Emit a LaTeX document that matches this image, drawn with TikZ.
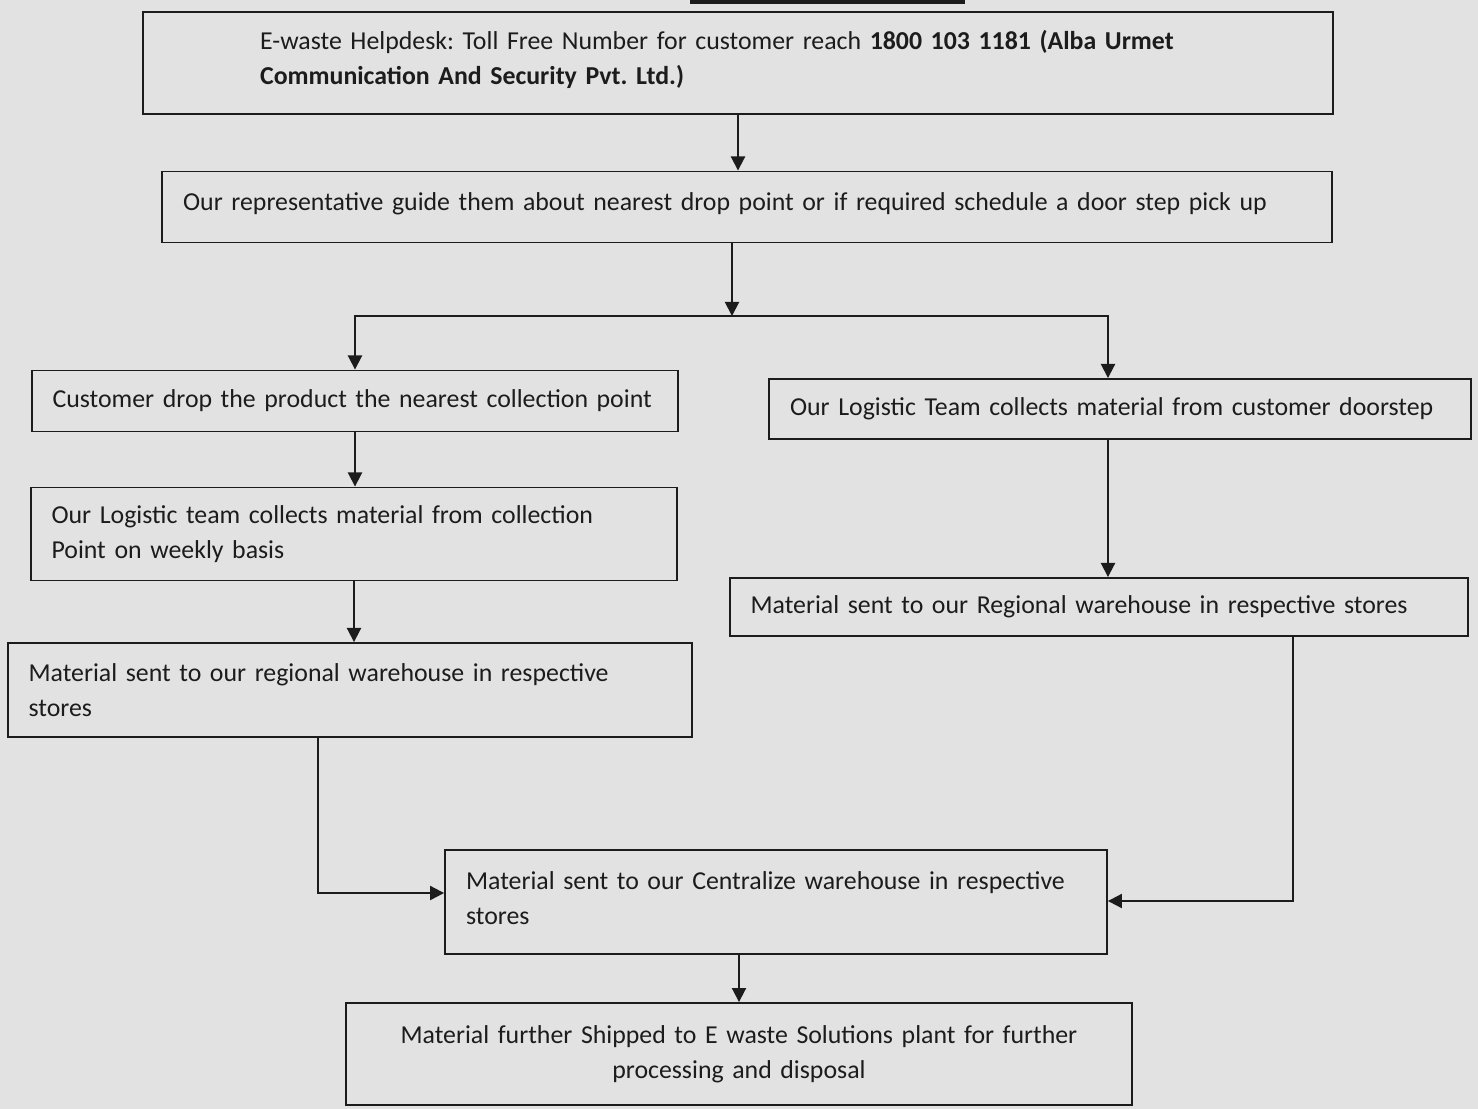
\documentclass[tikz,border=0pt]{standalone}
\usepackage{fontspec}
\setmainfont{Carlito}
\usetikzlibrary{arrows.meta}
\definecolor{scan}{RGB}{226,226,226}
\definecolor{ink}{RGB}{28,28,28}
\frenchspacing
\tikzset{
  stepbox/.style={draw=ink, line width=1.1pt, rectangle, align=left,
    inner ysep=0pt, inner xsep=0.42cm, text=ink,
    font=\fontsize{14.7}{20}\selectfont},
  flow/.style={draw=ink, line width=1.1pt, -{Triangle[length=8pt,width=8pt]}},
}
\begin{document}
\begin{tikzpicture}[x=0.02cm, y=-0.02cm]
  \fill[scan] (0,0) rectangle (1478,1109);
  \useasboundingbox (0,0) rectangle (1478,1109);
  \draw[ink, line width=3pt] (690,1) -- (965,1);

  \node[stepbox, inner xsep=2.34cm, text width=19.12cm, minimum height=2.04cm] (help) at (738,63)
    {E-waste Helpdesk: Toll Free Number for customer reach \textbf{1800 103 1181 (Alba Urmet}\\
     \textbf{Communication And Security Pvt. Ltd.)}\vspace{4pt}};
  \node[stepbox, text width=22.56cm, minimum height=1.42cm] (guide) at (747,207)
    {Our representative guide them about nearest drop point or if required schedule a door step pick up\vspace{4pt}};
  \node[stepbox, text width=12.1cm, minimum height=1.22cm] (drop) at (355,401)
    {Customer drop the product the nearest collection point};
  \node[stepbox, text width=13.2cm, minimum height=1.2cm] (doorstep) at (1120,409)
    {Our Logistic Team collects material from customer doorstep};
  \node[stepbox, text width=12.1cm, minimum height=1.86cm] (weekly) at (354,534)
    {Our Logistic team collects material from collection\\ Point on weekly basis};
  \node[stepbox, text width=13.94cm, minimum height=1.16cm] (regionR) at (1099,607)
    {Material sent to our Regional warehouse in respective stores};
  \node[stepbox, text width=12.86cm, minimum height=1.88cm] (regionL) at (350,690)
    {Material sent to our regional warehouse in respective\\ stores};
  \node[stepbox, text width=12.4cm, minimum height=2.08cm] (central) at (776,902)
    {Material sent to our Centralize warehouse in respective\\ stores\vspace{4pt}};
  \node[stepbox, align=center, text width=14.9cm, minimum height=2.04cm] (plant) at (739,1054)
    {Material further Shipped to E waste Solutions plant for further\\ processing and disposal};

  \coordinate (split) at (732,316);
  \coordinate (lbend) at (318,893);
  \coordinate (rbend) at (1293,901);

  \draw[flow] (help.south) -- (help.south |- guide.north);
  \draw[flow] (split |- guide.south) -- (split);
  \draw[flow] (split) -| (drop.north);
  \draw[flow] (split) -| ([xshift=-0.24cm]doorstep.north);
  \draw[flow] (drop.south) -- (drop.south |- weekly.north);
  \draw[flow] (weekly.south) -- (weekly.south |- regionL.north);
  \draw[flow] ([xshift=-0.24cm]doorstep.south) -- ([xshift=-0.24cm]doorstep.south |- regionR.north);
  \draw[flow] (lbend |- regionL.south) -- (lbend) -- (lbend -| central.west);
  \draw[flow] (rbend |- regionR.south) -- (rbend) -- (rbend -| central.east);
  \draw[flow] (plant.north |- central.south) -- (plant.north);
\end{tikzpicture}
\end{document}
